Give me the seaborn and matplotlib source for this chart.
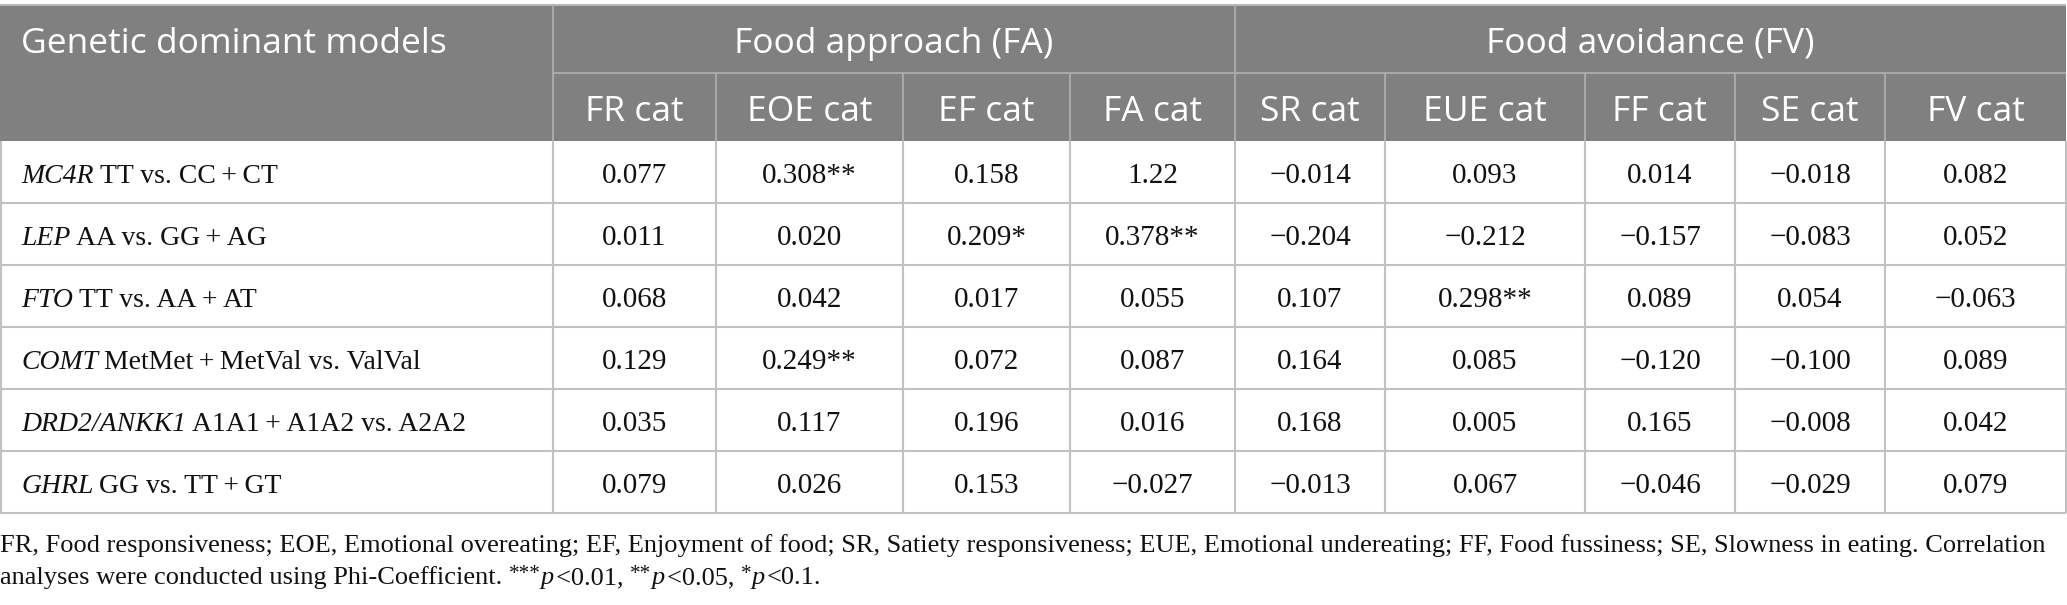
import matplotlib
matplotlib.use("Agg")
import matplotlib.pyplot as plt
from matplotlib.patches import Rectangle
import seaborn as sns

# --- data ---
group_labels = ["Food approach (FA)", "Food avoidance (FV)"]
group_spans = [(1, 5), (5, 10)]          # column index ranges under each group
col_labels = ["Genetic dominant models", "FR cat", "EOE cat", "EF cat", "FA cat",
              "SR cat", "EUE cat", "FF cat", "SE cat", "FV cat"]
genes = ["MC4R", "LEP", "FTO", "COMT", "DRD2/ANKK1", "GHRL"]
contrasts = ["TT vs. CC\u2009+\u2009CT", "AA vs. GG\u2009+\u2009AG", "TT vs. AA\u2009+\u2009AT",
             "MetMet\u2009+\u2009MetVal vs. ValVal", "A1A1\u2009+\u2009A1A2 vs. A2A2",
             "GG vs. TT\u2009+\u2009GT"]
values = [
    ["0.077", "0.308**", "0.158", "1.22", "\u22120.014", "0.093", "0.014", "\u22120.018", "0.082"],
    ["0.011", "0.020", "0.209*", "0.378**", "\u22120.204", "\u22120.212", "\u22120.157", "\u22120.083", "0.052"],
    ["0.068", "0.042", "0.017", "0.055", "0.107", "0.298**", "0.089", "0.054", "\u22120.063"],
    ["0.129", "0.249**", "0.072", "0.087", "0.164", "0.085", "\u22120.120", "\u22120.100", "0.089"],
    ["0.035", "0.117", "0.196", "0.016", "0.168", "0.005", "0.165", "\u22120.008", "0.042"],
    ["0.079", "0.026", "0.153", "\u22120.027", "\u22120.013", "0.067", "\u22120.046", "\u22120.029", "0.079"],
]
note_line1 = ("FR, Food responsiveness; EOE, Emotional overeating; EF, Enjoyment of food; "
              "SR, Satiety responsiveness; EUE, Emotional undereating; FF, Food fussiness; "
              "SE, Slowness in eating. Correlation")
note_line2 = [("analyses were conducted using Phi-Coefficient. ", "rm"),
              ("***", "sup"), ("p", "it"), ("<0.01, ", "rm"),
              ("**", "sup"), ("p", "it"), ("<0.05, ", "rm"),
              ("*", "sup"), ("p", "it"), ("<0.1.", "rm")]

# --- layout (pixels) ---
W, H = 2067, 605
col_edges = [0, 553, 716, 903, 1070, 1235, 1385, 1585, 1735, 1885, 2066]
y_top, y_mid, y_head = 5, 73, 141
row_h = 62
HEAD_BG = "#808080"
HEAD_LINE = "#a8a8a8"
BODY_LINE = "#c2c2c2"
TXT = "#111111"
SANS = "Open Sans"
SERIF = "Liberation Serif"
head_fs = 25.5
label_fs = 20
num_fs = 21
note_fs = 19

sns.set_theme(style="white")
plt.rcParams["font.family"] = [SERIF, "DejaVu Serif"]

fig = plt.figure(figsize=(W / 100, H / 100), dpi=100)
ax = fig.add_axes([0, 0, 1, 1])
ax.set_xlim(0, W)
ax.set_ylim(H, 0)
ax.axis("off")
renderer = fig.canvas.get_renderer()

n_rows = len(genes)
y_bot = y_head + n_rows * row_h

# header background and rules
ax.add_patch(Rectangle((col_edges[0], y_top), col_edges[-1] - col_edges[0], y_head - y_top,
                       facecolor=HEAD_BG, edgecolor="none"))
ax.hlines(y_top, col_edges[0], col_edges[-1], color="#b8b8b8", lw=1.5)
ax.hlines(y_mid, col_edges[1], col_edges[-1], color=HEAD_LINE, lw=1.5)
for i, x in enumerate(col_edges[1:-1], start=1):
    full = i in (1, 5)
    ax.vlines(x, y_top if full else y_mid, y_head, color=HEAD_LINE, lw=1.5)

# header text
ax.text(21, 53, col_labels[0], family=SANS, fontsize=head_fs, color="white",
        ha="left", va="baseline")
for lab, (a, b) in zip(group_labels, group_spans):
    ax.text((col_edges[a] + col_edges[b]) / 2, 53, lab, family=SANS, fontsize=head_fs,
            color="white", ha="center", va="baseline")
for j in range(1, len(col_labels)):
    ax.text((col_edges[j] + col_edges[j + 1]) / 2, 121, col_labels[j], family=SANS,
            fontsize=head_fs, color="white", ha="center", va="baseline")

# body grid
for r in range(1, n_rows + 1):
    ax.hlines(y_head + r * row_h, col_edges[0], col_edges[-1], color=BODY_LINE, lw=1.5)
for x in col_edges:
    ax.vlines(x + (0.75 if x == 0 else 0), y_head, y_bot, color=BODY_LINE, lw=1.5)

# body text
for r in range(n_rows):
    yb = y_head + r * row_h + 42
    t = ax.text(21, yb, genes[r], fontsize=label_fs, style="italic", color=TXT,
                ha="left", va="baseline")
    bb = t.get_window_extent(renderer=renderer)
    ax.text(bb.x1 + 6, yb, contrasts[r], fontsize=label_fs, color=TXT,
            ha="left", va="baseline")
    for j, v in enumerate(values[r]):
        xc = (col_edges[j + 1] + col_edges[j + 2]) / 2
        ax.text(xc, yb, v, fontsize=num_fs, color=TXT, ha="center", va="baseline")

# footnote
ax.text(0, 552, note_line1, fontsize=note_fs, color=TXT, ha="left", va="baseline")
x = 0
for seg, kind in note_line2:
    y = 584
    fs = note_fs
    kw = {}
    if kind == "it":
        kw["style"] = "italic"
    if kind == "sup":
        fs = note_fs * 0.8
        y = 584 - 5
    t = ax.text(x, y, seg, fontsize=fs, color=TXT, ha="left", va="baseline", **kw)
    x = t.get_window_extent(renderer=renderer).x1 + (2 if kind == "it" else 0)

fig.savefig("out.png", dpi=100, facecolor="white")
